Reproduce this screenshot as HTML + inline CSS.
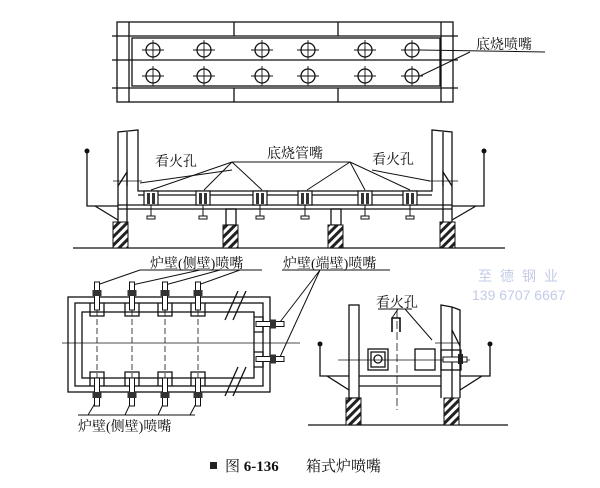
<!DOCTYPE html>
<html><head><meta charset="utf-8"><style>
html,body{margin:0;padding:0;background:#fff;}
svg{display:block;}
text{font-family:"Liberation Serif","Noto Serif CJK SC","Noto Sans CJK SC",serif;fill:#111;}
text.wm{fill:#c3cbe8;font-family:"Liberation Sans","Noto Sans CJK SC",sans-serif;}
</style></head><body>
<svg width="600" height="488" viewBox="0 0 600 488" xmlns="http://www.w3.org/2000/svg">
<defs>
<pattern id="h" width="6" height="6" patternUnits="userSpaceOnUse" patternTransform="rotate(45)">
<rect width="6" height="6" fill="#fff"/><rect width="3" height="6" fill="#222"/></pattern>
<g id="c"><circle r="7" fill="none" stroke="#111" stroke-width="1.3"/><line x1="-11" y1="0" x2="11" y2="0" stroke="#111" stroke-width="0.9"/><line x1="0" y1="-10" x2="0" y2="10" stroke="#111" stroke-width="0.9"/></g>
<g id="b"><rect x="-7" y="-14" width="14" height="14" fill="#fff" stroke="#111" stroke-width="1.2"/><rect x="-4" y="-12" width="3" height="11" fill="#333"/><rect x="1" y="-12" width="3" height="11" fill="#333"/><line x1="0" y1="0" x2="0" y2="11" stroke="#111"/><rect x="-4" y="11" width="8" height="3" fill="#fff" stroke="#111"/></g>
<g id="vb"><rect x="-2.5" y="-14" width="5" height="28" fill="#fff" stroke="#111"/><rect x="-4.5" y="-6" width="9" height="6" fill="#333"/></g>
</defs>
<g stroke="#111" fill="none" stroke-width="1.3">
<rect x="117" y="22" width="336" height="80"/>
<line x1="129" y1="22" x2="129" y2="102"/><line x1="441" y1="22" x2="441" y2="102"/>
<line x1="112" y1="36" x2="458" y2="36"/><line x1="112" y1="60" x2="458" y2="60"/><line x1="112" y1="88" x2="458" y2="88"/>
<rect x="132" y="38" width="308" height="48"/>
<line x1="234" y1="22" x2="234" y2="36"/><line x1="338" y1="22" x2="338" y2="36"/>
<line x1="234" y1="88" x2="234" y2="102"/><line x1="338" y1="88" x2="338" y2="102"/>
<line x1="420" y1="50" x2="545" y2="52" stroke-width="1"/><line x1="420" y1="76" x2="470" y2="52" stroke-width="1"/>
</g>
<g><use href="#c" x="153" y="50"/><use href="#c" x="204" y="50"/><use href="#c" x="262" y="50"/><use href="#c" x="308" y="50"/><use href="#c" x="365" y="50"/><use href="#c" x="412" y="50"/>
<use href="#c" x="153" y="76"/><use href="#c" x="204" y="76"/><use href="#c" x="262" y="76"/><use href="#c" x="308" y="76"/><use href="#c" x="365" y="76"/><use href="#c" x="412" y="76"/></g>
<text x="476" y="49" font-size="14">底烧喷嘴</text>

<g stroke="#111" fill="none" stroke-width="1.3">
<line x1="73" y1="248" x2="505" y2="248"/>
<path d="M118 222 V132 L138 130 V191 H432 V130 L452 132 V222"/>
<line x1="127" y1="132" x2="127" y2="222"/><line x1="443" y1="132" x2="443" y2="222"/>
<line x1="138" y1="195" x2="432" y2="195"/><line x1="118" y1="205" x2="452" y2="205"/><line x1="118" y1="209" x2="452" y2="209"/>
<path d="M87 152 V206 H118 M95 206 L118 220"/><path d="M484 152 V206 H452 M476 206 L452 220"/>
<path d="M118 186 L127 172 V186 M452 186 L443 172 V186"/>
<line x1="113" y1="181" x2="142" y2="181" stroke-width="0.8"/><line x1="428" y1="181" x2="458" y2="181" stroke-width="0.8"/>
<rect x="226" y="209" width="10" height="16"/><rect x="331" y="209" width="10" height="16"/>
<line x1="232" y1="170" x2="140" y2="183" stroke-width="1"/>
<path d="M232 162 L151 190 M232 162 L204 190 M232 162 L262 190 M232 162 H350 M350 162 L307 190 M350 162 L365 190 M350 162 L410 190" stroke-width="1"/>
<line x1="372" y1="170" x2="430" y2="181" stroke-width="1"/>
</g>
<circle cx="87" cy="151" r="2.5" fill="#111"/><circle cx="484" cy="151" r="2.5" fill="#111"/>
<g fill="url(#h)" stroke="#111"><rect x="113" y="222" width="15" height="26"/><rect x="223" y="225" width="15" height="23"/><rect x="328" y="225" width="15" height="23"/><rect x="440" y="222" width="15" height="26"/></g>
<g><use href="#b" x="151" y="205"/><use href="#b" x="203" y="205"/><use href="#b" x="260" y="205"/><use href="#b" x="305" y="205"/><use href="#b" x="365" y="205"/><use href="#b" x="410" y="205"/></g>
<text x="155" y="166" font-size="14">看火孔</text><text x="267" y="158" font-size="14">底烧管嘴</text><text x="372" y="164" font-size="14">看火孔</text>

<g stroke="#111" fill="none" stroke-width="1.3">
<rect x="68" y="297" width="202" height="95"/>
<rect x="75" y="303" width="188" height="83"/>
<rect x="82" y="312" width="172" height="66"/>
<line x1="62" y1="343" x2="300" y2="343" stroke-width="0.8"/>
<path d="M90 303 V316 H104 V303 M125 303 V316 H139 V303 M158 303 V316 H172 V303 M191 303 V316 H205 V303"/>
<path d="M90 386 V372 H104 V386 M125 386 V372 H139 V386 M158 386 V372 H172 V386 M191 386 V372 H205 V386"/>
<path d="M254 317 H263 V332 H254 M254 352 H263 V367 H254"/>
<line x1="225" y1="320" x2="238" y2="291"/><line x1="233" y1="320" x2="246" y2="291"/>
<line x1="225" y1="396" x2="238" y2="367"/><line x1="233" y1="396" x2="246" y2="367"/>
<g stroke-width="0.8" stroke-dasharray="6 3"><line x1="97" y1="310" x2="97" y2="378"/><line x1="132" y1="310" x2="132" y2="378"/><line x1="165" y1="310" x2="165" y2="378"/><line x1="198" y1="310" x2="198" y2="378"/></g>
<line x1="140" y1="270" x2="262" y2="270" stroke-width="1"/>
<path d="M97 285 L140 270 M132 285 L200 270 M165 285 L220 270 M198 285 L240 270" stroke-width="1"/>
<line x1="78" y1="415" x2="195" y2="415" stroke-width="1"/>
<path d="M97 400 L88 415 M132 400 L125 415 M165 400 L158 415 M198 400 L190 415" stroke-width="1"/>
<line x1="282" y1="270" x2="390" y2="270" stroke-width="1"/>
<path d="M320 270 L280 322 M320 270 L280 357" stroke-width="1"/>
</g>
<g><use href="#vb" x="97" y="296"/><use href="#vb" x="132" y="296"/><use href="#vb" x="165" y="296"/><use href="#vb" x="198" y="296"/>
<use href="#vb" x="97" y="392" transform="rotate(180 97 392)"/><use href="#vb" x="132" y="392" transform="rotate(180 132 392)"/><use href="#vb" x="165" y="392" transform="rotate(180 165 392)"/><use href="#vb" x="198" y="392" transform="rotate(180 198 392)"/>
<use href="#vb" x="270" y="324" transform="rotate(90 270 324)"/><use href="#vb" x="270" y="359" transform="rotate(90 270 359)"/></g>
<text x="150" y="268" font-size="14">炉壁(侧壁)喷嘴</text>
<text x="78" y="431" font-size="14">炉壁(侧壁)喷嘴</text>
<text x="283" y="268" font-size="14">炉壁(端壁)喷嘴</text>

<g stroke="#111" fill="none" stroke-width="1.3">
<line x1="308" y1="425" x2="508" y2="425"/>
<rect x="349" y="305" width="10" height="93"/>
<path d="M441 398 V305 L452 307 L460 310 V398"/>
<line x1="452" y1="307" x2="452" y2="398"/>
<path d="M320 346 V376 H349 M327 376 L349 390"/><path d="M490 346 V376 H460 M482 376 L460 390"/>
<line x1="359" y1="376" x2="441" y2="376"/><line x1="359" y1="386" x2="441" y2="386"/>
<rect x="368" y="349" width="20" height="21"/><rect x="371" y="352" width="14" height="15"/><circle cx="378" cy="359" r="4"/>
<rect x="415" y="349" width="20" height="21"/>
<path d="M392 332 V318 H400 V332" stroke-width="1.6"/>
<rect x="441" y="350" width="20" height="20"/>
<line x1="338" y1="360" x2="470" y2="360" stroke-width="0.8"/>
<line x1="397" y1="310" x2="397" y2="410" stroke-width="0.8" stroke-dasharray="8 3"/>
<line x1="435" y1="343" x2="460" y2="343" stroke-width="0.8"/>
<path d="M452 330 L460 346" />
<line x1="378" y1="309" x2="412" y2="309" stroke-width="1"/><path d="M398 309 L392 318 M405 309 L432 340" stroke-width="1"/>
</g>
<rect x="443" y="357" width="24" height="5" fill="#fff" stroke="#111"/><rect x="458" y="354" width="5" height="10" fill="#222"/>
<circle cx="320" cy="344" r="2.5" fill="#111"/><circle cx="490" cy="344" r="2.5" fill="#111"/>
<g fill="url(#h)" stroke="#111"><rect x="346" y="398" width="15" height="27"/><rect x="444" y="398" width="15" height="27"/></g>
<text x="376" y="307" font-size="14">看火孔</text>
<text class="wm" x="478" y="281" font-size="14" letter-spacing="8">至德钢业</text>
<text class="wm" x="472" y="300" font-size="14">139 6707 6667</text>

<rect x="210" y="462" width="7" height="7" fill="#222"/>
<text x="225" y="471" font-size="15">图 <tspan font-weight="bold">6-136</tspan></text>
<text x="306" y="471" font-size="15">箱式炉喷嘴</text>
</svg>
</body></html>
